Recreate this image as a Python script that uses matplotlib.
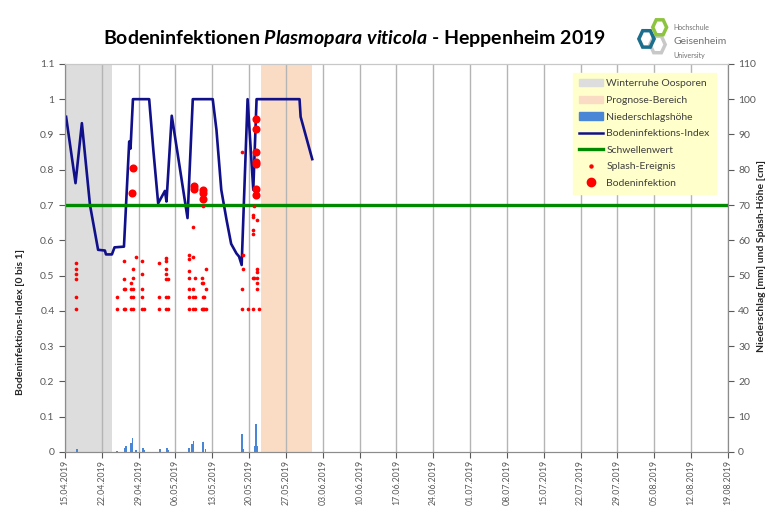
import matplotlib
matplotlib.use("Agg")
import matplotlib.pyplot as plt
import matplotlib.dates as mdates
from matplotlib.patches import Patch, RegularPolygon
from matplotlib.lines import Line2D
import pandas as pd

plt.rcParams['font.family'] = ['Lato', 'DejaVu Sans']
plt.rcParams['mathtext.fontset'] = 'custom'
plt.rcParams['mathtext.it'] = 'Lato:italic:bold'
plt.rcParams['mathtext.rm'] = 'Lato:bold'

# Bodeninfektions-Index (0..1)
index_times = ["2019-04-15 05:00", "2019-04-17 00:00", "2019-04-18 05:00", "2019-04-19 18:00",
               "2019-04-21 07:00", "2019-04-22 14:00", "2019-04-22 19:00", "2019-04-23 22:00",
               "2019-04-24 10:00", "2019-04-26 05:00", "2019-04-27 05:00", "2019-04-27 11:00",
               "2019-04-27 22:00", "2019-05-01 00:00", "2019-05-01 19:00", "2019-05-02 17:00",
               "2019-05-04 00:00", "2019-05-04 07:00", "2019-05-05 07:00", "2019-05-06 12:00",
               "2019-05-08 07:00", "2019-05-09 07:00", "2019-05-13 02:00", "2019-05-13 19:00",
               "2019-05-14 17:00", "2019-05-15 17:00", "2019-05-16 14:00", "2019-05-17 14:00",
               "2019-05-18 02:00", "2019-05-18 14:00", "2019-05-19 17:00", "2019-05-20 19:00",
               "2019-05-21 10:00", "2019-05-29 14:00", "2019-05-29 19:00", "2019-06-01 00:00"]
index_values = [0.95, 0.762, 0.932, 0.70,
                0.573, 0.571, 0.56, 0.56,
                0.58, 0.582, 0.88, 0.86,
                1.0, 1.0, 0.856, 0.705,
                0.74, 0.71, 0.953, 0.837,
                0.663, 1.0, 1.0, 0.913,
                0.743, 0.658, 0.59, 0.563,
                0.554, 0.53, 1.0, 0.743,
                1.0, 1.0, 0.95, 0.83]

threshold = 0.7

# Niederschlag [mm]
rain_times = ["2019-04-17 07:00", "2019-04-24 22:00", "2019-04-26 10:00", "2019-04-26 13:00",
              "2019-04-27 12:00", "2019-04-27 20:00", "2019-04-28 12:00", "2019-04-29 19:00",
              "2019-04-30 00:00", "2019-05-03 00:00", "2019-05-04 08:00", "2019-05-04 14:00",
              "2019-05-08 14:00", "2019-05-09 05:00", "2019-05-09 10:00", "2019-05-11 05:00",
              "2019-05-11 17:00", "2019-05-18 14:00", "2019-05-18 22:00", "2019-05-21 02:00",
              "2019-05-21 05:00", "2019-05-21 08:00", "2019-05-21 14:00"]
rain_mm = [0.95, 0.3, 1.0, 1.8,
           2.6, 4.0, 0.7, 1.1,
           0.6, 0.85, 1.1, 0.6,
           1.2, 2.4, 3.0, 2.7,
           0.85, 5.0, 0.9, 1.8,
           4.5, 8.0, 1.6]

# Splash-Ereignisse: Zeitpunkt und Höhe [cm]
splash_times = (["2019-04-17 04:00"] * 6 + ["2019-04-24 19:00"] * 2 + ["2019-04-26 05:00"] * 4
                + ["2019-04-26 12:00"] * 2 + ["2019-04-27 12:00"] * 4 + ["2019-04-27 22:00"] * 5
                + ["2019-04-28 10:00"] + ["2019-04-29 17:00"] * 5 + ["2019-04-30 00:00"]
                + ["2019-05-02 22:00"] * 3 + ["2019-05-04 05:00"] * 7 + ["2019-05-04 14:00"] * 3
                + ["2019-05-08 14:00"] * 7 + ["2019-05-09 07:00"] * 5 + ["2019-05-09 17:00"] * 3
                + ["2019-05-11 00:00"] * 3 + ["2019-05-11 05:00"] * 4 + ["2019-05-11 10:00"] * 2
                + ["2019-05-11 19:00"] * 3 + ["2019-05-18 14:00"] * 3 + ["2019-05-18 19:00"] * 2
                + ["2019-05-19 19:00"] + ["2019-05-20 19:00"] * 6 + ["2019-05-21 00:00"] * 2
                + ["2019-05-21 12:00"] * 6 + ["2019-05-21 22:00"])
splash_cm = [53.7, 52.0, 50.5, 49.0, 44.0, 40.5,
             44.0, 40.5,
             54.2, 49.0, 46.2, 40.5,
             46.2, 40.5,
             47.8, 46.2, 44.0, 40.5,
             51.8, 49.2, 46.2, 44.0, 40.5,
             55.2,
             54.2, 50.5, 46.2, 44.0, 40.5,
             40.5,
             53.7, 44.0, 40.5,
             55.0, 54.2, 52.0, 50.5, 49.0, 44.0, 40.5,
             49.0, 44.0, 40.5,
             55.9, 54.6, 51.3, 49.2, 46.2, 44.0, 40.5,
             63.9, 55.2, 46.2, 44.0, 40.5,
             49.2, 44.0, 40.5,
             49.2, 47.8, 40.5,
             69.7, 47.8, 44.0, 40.5,
             44.0, 40.5,
             52.0, 46.2, 40.5,
             84.9, 46.2, 40.5,
             55.9, 52.0,
             40.5,
             67.2, 66.6, 62.9, 61.8, 49.2, 40.5,
             69.7, 49.2,
             65.8, 51.8, 51.0, 49.2, 47.8, 46.2,
             40.5]

# Bodeninfektionen [cm]
infect_times = ["2019-04-27 22:00", "2019-04-27 17:00",
                "2019-05-09 12:00", "2019-05-09 14:00",
                "2019-05-11 05:00", "2019-05-11 05:00", "2019-05-11 05:00",
                "2019-05-21 07:00", "2019-05-21 08:00", "2019-05-21 07:00", "2019-05-21 07:00",
                "2019-05-21 08:00", "2019-05-21 06:00", "2019-05-21 06:00"]
infect_cm = [80.6, 73.5,
             75.5, 74.5,
             74.3, 73.5, 71.7,
             94.3, 91.5, 85.0, 82.3,
             81.5, 74.5, 72.9]

winter_span = ("2019-04-15", "2019-04-24 00:00")
prognose_span = ("2019-05-22 06:00", "2019-06-01 00:00")
x_start, x_end = "2019-04-15", "2019-08-19"

fig = plt.figure(figsize=(7.71, 5.07), dpi=100)
ax = fig.add_axes([0.0843, 0.1085, 0.944 - 0.0843, 0.874 - 0.1085])
ax2 = ax.twinx()

grey = '#595959'
ax.axvspan(pd.Timestamp(winter_span[0]), pd.Timestamp(winter_span[1]), color='#DDDDDD', zorder=0.2, lw=0)
ax.axvspan(pd.Timestamp(prognose_span[0]), pd.Timestamp(prognose_span[1]), color='#FADCC5', zorder=0.2, lw=0)
ax.set_axisbelow(True)
ax.grid(axis='x', color='#B4B4B4', lw=1)

ax.plot(pd.to_datetime(index_times), index_values, color='#10108A', lw=1.9, zorder=3)
ax.axhline(threshold, color='#008A00', lw=2.4, zorder=4)

ax2.bar(pd.to_datetime(rain_times), rain_mm, width=0.35, color='#4A86D6', zorder=2)
ax2.scatter(pd.to_datetime(splash_times), splash_cm, s=7, color='#FF0000', lw=0, zorder=5)
ax2.scatter(pd.to_datetime(infect_times), infect_cm, s=34, color='#FF0000', lw=0, zorder=6)

ax.set_xlim(pd.Timestamp(x_start), pd.Timestamp(x_end))
ax.set_ylim(0, 1.1)
ax2.set_ylim(0, 110)
ax.set_yticks([i / 10 for i in range(12)])
ax.set_yticklabels(['0', '0.1', '0.2', '0.3', '0.4', '0.5', '0.6', '0.7', '0.8', '0.9', '1', '1.1'])
ax2.set_yticks(range(0, 111, 10))
ax.set_xticks(pd.date_range(x_start, x_end, freq='7D'))
ax.xaxis.set_major_formatter(mdates.DateFormatter('%d.%m.%Y'))
for lab in ax.get_xticklabels():
    lab.set_rotation(90)

for a in (ax, ax2):
    a.tick_params(labelsize=7.5, colors=grey, length=4, width=0.8)
    for s in a.spines.values():
        s.set_color('#8C8C8C')
        s.set_linewidth(0.8)
    a.spines['top'].set_color('#C8C8C8')
ax.tick_params(axis='x', labelsize=6.3, pad=2)

fig.text(0.026, 0.365, 'Bodeninfektions-Index [0 bis 1]', rotation=90, ha='center', va='center',
         fontsize=7.5, fontweight='bold', color='#262626')
fig.text(0.988, 0.495, 'Niederschlag [mm] und Splash-Höhe [cm]', rotation=90, ha='center', va='center',
         fontsize=7.5, fontweight='bold', color='#262626')

fig.text(0.46, 0.925, r'Bodeninfektionen $\mathit{Plasmopara\ viticola}$ - Heppenheim 2019',
         ha='center', va='center', fontsize=14, fontweight='bold', color='black')

# Logo
logo = fig.add_axes([0.825, 0.885, 0.045, 0.085])
logo.set_xlim(0, 1)
logo.set_ylim(0, 1)
logo.axis('off')
logo.add_patch(RegularPolygon((0.62, 0.32), 6, radius=0.22, orientation=0.52, fill=False, ec='#C8C8C8', lw=2.5))
logo.add_patch(RegularPolygon((0.3, 0.45), 6, radius=0.22, orientation=0.52, fill=False, ec='#1B6F8C', lw=2.5))
logo.add_patch(RegularPolygon((0.68, 0.72), 6, radius=0.2, orientation=0.52, fill=False, ec='#8CC43F', lw=2.5))
fig.text(0.873, 0.945, 'Hochschule', fontsize=5, color='#707070', va='center')
fig.text(0.873, 0.918, 'Geisenheim', fontsize=7.5, color='#707070', va='center')
fig.text(0.873, 0.891, 'University', fontsize=5, color='#707070', va='center')

handles = [Patch(color='#DDDDDD'), Patch(color='#FADCC5'), Patch(color='#4A86D6'),
           Line2D([], [], color='#10108A', lw=1.8), Line2D([], [], color='#008A00', lw=2.4),
           Line2D([], [], ls='', marker='o', ms=2.2, color='#FF0000'),
           Line2D([], [], ls='', marker='o', ms=6, color='#FF0000')]
labels = ['Winterruhe Oosporen', 'Prognose-Bereich', 'Niederschlagshöhe', 'Bodeninfektions-Index',
          'Schwellenwert', 'Splash-Ereignis', 'Bodeninfektion']
leg = ax2.legend(handles, labels, loc='upper right', bbox_to_anchor=(0.985, 0.982), fontsize=7.5,
                 frameon=True, fancybox=False, facecolor='#FFFFCC', edgecolor='#FFFFCC',
                 framealpha=1, handlelength=2.3, handletextpad=0.3, labelspacing=0.7,
                 borderpad=0.6, borderaxespad=0.2, labelcolor='#404040')
leg.set_zorder(10)

fig.savefig('out.png', dpi=100)
